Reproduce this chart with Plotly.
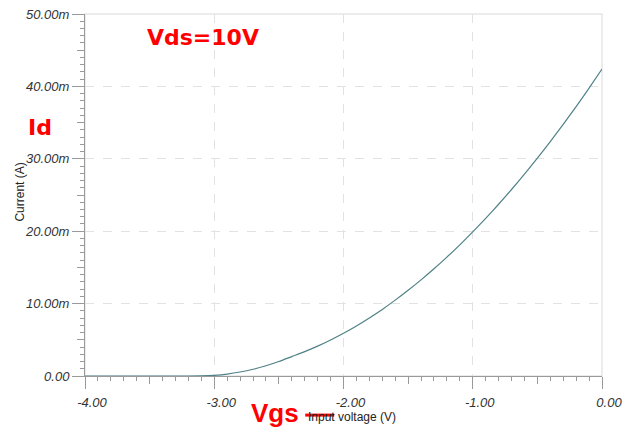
import plotly.graph_objects as go

# Data (Vgs in V, Id in mA)
vgs = [-4.0, -3.9, -3.8, -3.7, -3.6, -3.5, -3.4, -3.3, -3.2, -3.1,
       -3.0, -2.9, -2.8, -2.7, -2.6, -2.5, -2.4, -2.3, -2.2, -2.1,
       -2.0, -1.9, -1.8, -1.7, -1.6, -1.5, -1.4, -1.3, -1.2, -1.1,
       -1.0, -0.9, -0.8, -0.7, -0.6, -0.5, -0.4, -0.3, -0.2, -0.1, 0.0]
id_ma = [0, 0, 0, 0, 0, 0, 0, 0, 0, 0.02,
         0.1, 0.27, 0.55, 0.93, 1.42, 2.0, 2.68, 3.36, 4.12, 4.97,
         5.9, 6.92, 8.02, 9.2, 10.48, 11.84, 13.28, 14.81, 16.42, 18.12,
         19.9, 21.77, 23.72, 25.76, 27.88, 30.09, 32.38, 34.76, 37.22, 39.77, 42.4]

x_major = [-4, -3, -2, -1, 0]
x_labels = ["-4.00", "-3.00", "-2.00", "-1.00", "0.00"]
x_mid = [-3.5, -2.5, -1.5, -0.5]
y_major = [0, 10, 20, 30, 40, 50]
y_labels = ["0.00", "10.00m", "20.00m", "30.00m", "40.00m", "50.00m"]
y_mid = [5, 15, 25, 35, 45]

AX = "#9a9a9a"
GRID = "#e2e2e2"
TXT = "#333333"
RED = "#ff0000"
SANS = "Liberation Sans, Arial, sans-serif"
tickfont = dict(family=SANS, size=13, color=TXT, style="italic")

fig = go.Figure()
fig.add_trace(go.Scatter(x=vgs, y=id_ma, mode="lines",
                         line=dict(color="#4f8187", width=1.2, shape="spline", smoothing=0.6),
                         hoverinfo="skip", showlegend=False))
# invisible trace so overlay axes are drawn
fig.add_trace(go.Scatter(x=[x_major[0]], y=[y_major[0]], xaxis="x2", yaxis="y2",
                         mode="markers", marker=dict(opacity=0), showlegend=False,
                         hoverinfo="skip"))


def note(text, x, y, font, angle=0):
    return dict(text=text, xref="paper", yref="paper", x=x, y=y,
                xanchor="center", yanchor="middle", textangle=angle,
                showarrow=False, font=font)


fig.update_layout(
    width=626, height=433,
    margin=dict(l=85, r=24, t=14, b=57, autoexpand=False),
    paper_bgcolor="white", plot_bgcolor="white",
    xaxis=dict(range=[-4, 0], showline=True, linecolor=AX, linewidth=1,
               ticks="outside", ticklen=12, tickcolor=AX, tickwidth=1,
               tickvals=x_major, ticktext=x_labels, tickfont=tickfont,
               ticklabelshift=7, ticklabelstandoff=2, automargin=False,
               showgrid=True, gridcolor=GRID, griddash="dash", gridwidth=1,
               zeroline=False,
               minor=dict(dtick=0.1, ticks="outside", ticklen=4, tickcolor=AX, showgrid=False)),
    yaxis=dict(range=[0, 50], showline=True, linecolor=AX, linewidth=1,
               ticks="outside", ticklen=12, tickcolor=AX, tickwidth=1,
               tickvals=y_major, ticktext=y_labels, tickfont=tickfont,
               automargin=False,
               showgrid=True, gridcolor=GRID, griddash="dash", gridwidth=1,
               zeroline=False,
               minor=dict(dtick=1, ticks="outside", ticklen=4, tickcolor=AX, showgrid=False)),
    xaxis2=dict(range=[-4, 0], overlaying="x", anchor="y", side="bottom",
                ticks="outside", ticklen=7, tickcolor=AX, tickvals=x_mid, automargin=False,
                showticklabels=False, showgrid=False, zeroline=False, showline=False),
    yaxis2=dict(range=[0, 50], overlaying="y", anchor="x", side="left",
                ticks="outside", ticklen=7, tickcolor=AX, tickvals=y_mid, automargin=False,
                showticklabels=False, showgrid=False, zeroline=False, showline=False),
    shapes=[
        dict(type="rect", xref="paper", yref="paper", x0=0, x1=1, y0=0, y1=1,
             line=dict(color="#e6e6e6", width=1.5), layer="below"),
        dict(type="line", xref="paper", yref="paper", x0=0.426, x1=0.482,
             y0=-0.108, y1=-0.108, line=dict(color=RED, width=3)),
    ],
    annotations=[
        note("Current (A)", -0.126, 0.509, dict(family=SANS, size=12, color="#222"), -90),
        note("Input voltage (V)", 0.517, -0.113, dict(family=SANS, size=12, color="#222")),
        note("<b>Vds=10V</b>", 0.228, 0.934, dict(family="DejaVu Sans", size=22, color=RED)),
        note("<b>Id</b>", -0.087, 0.686, dict(family="DejaVu Sans", size=22, color=RED)),
        note("<b>Vgs</b>", 0.368, -0.102, dict(family=SANS, size=26, color=RED)),
    ],
)

fig.write_html("out.html", config={"displayModeBar": False},
               post_script="document.body.style.margin='0';")
